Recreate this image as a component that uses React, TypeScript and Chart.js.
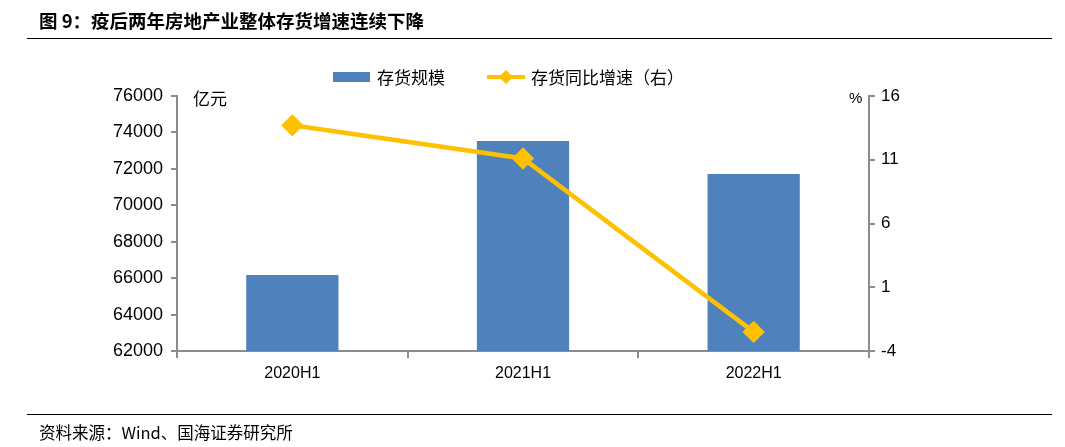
import React, { useEffect, useRef } from "react";
import { Chart, registerables } from "chart.js";

Chart.register(...registerables);

const categories = ["2020H1", "2021H1", "2022H1"];
const inventoryScale = [66170, 73530, 71720];
const inventoryGrowth = [13.7, 11.1, -2.5];
const leftTicks = { min: 62000, max: 76000, step: 2000 };
const rightTicks = { min: -4, max: 16, step: 5 };

const titleText = "图 9：疫后两年房地产业整体存货增速连续下降";
const sourceText = "资料来源：Wind、国海证券研究所";
const legendBar = "存货规模";
const legendLine = "存货同比增速（右）";

const BAR_COLOR = "#4F81BD";
const LINE_COLOR = "#FFC000";
const AXIS_COLOR = "#8C8C8C";
const CJK = '"Noto Sans CJK SC", sans-serif';
const LATIN = '"Liberation Sans", Arial, sans-serif';

export default function App() {
  const ref = useRef<HTMLCanvasElement | null>(null);

  useEffect(() => {
    if (!ref.current) return;
    const chart = new Chart(ref.current, {
      type: "bar",
      data: {
        labels: categories,
        datasets: [
          {
            type: "line",
            label: legendLine,
            data: inventoryGrowth,
            yAxisID: "y1",
            borderColor: LINE_COLOR,
            backgroundColor: LINE_COLOR,
            borderWidth: 4.5,
            pointStyle: "rectRot",
            pointRadius: 8,
            pointBackgroundColor: LINE_COLOR,
            pointBorderColor: LINE_COLOR,
            tension: 0,
            order: 0,
          } as any,
          {
            type: "bar",
            label: legendBar,
            data: inventoryScale,
            yAxisID: "y",
            backgroundColor: BAR_COLOR,
            barPercentage: 0.4,
            categoryPercentage: 1,
            order: 1,
          } as any,
        ],
      },
      options: {
        responsive: false,
        animation: false,
        layout: { padding: { top: 96, bottom: 0, left: 0, right: 0 } },
        plugins: { legend: { display: false }, tooltip: { enabled: false }, title: { display: false } },
        scales: {
          x: {
            grid: {
              display: true,
              offset: true,
              drawOnChartArea: false,
              drawTicks: true,
              tickLength: 7,
              color: AXIS_COLOR,
              lineWidth: 2,
            },
            border: { color: AXIS_COLOR, width: 2 },
            ticks: { color: "#000", font: { family: LATIN, size: 16 }, padding: 6 },
            afterFit: (s: any) => {
              s.height = 96;
            },
          },
          y: {
            position: "left",
            min: leftTicks.min,
            max: leftTicks.max,
            ticks: {
              stepSize: leftTicks.step,
              color: "#000",
              font: { family: LATIN, size: 18 },
              padding: 8,
              callback: (v: any) => String(v),
            },
            grid: { display: true, drawOnChartArea: false, drawTicks: true, tickLength: 6, color: AXIS_COLOR, lineWidth: 2 },
            border: { color: AXIS_COLOR, width: 2 },
            afterFit: (s: any) => {
              s.width = 177;
            },
          },
          y1: {
            position: "right",
            min: rightTicks.min,
            max: rightTicks.max,
            ticks: {
              stepSize: rightTicks.step,
              color: "#000",
              font: { family: LATIN, size: 17 },
              padding: 6,
              callback: (v: any) => String(v),
            },
            grid: { display: true, drawOnChartArea: false, drawTicks: true, tickLength: 6, color: AXIS_COLOR, lineWidth: 2 },
            border: { color: AXIS_COLOR, width: 2 },
            afterFit: (s: any) => {
              s.width = 196;
            },
          },
        },
      },
    });
    return () => chart.destroy();
  }, []);

  const abs = (o: React.CSSProperties): React.CSSProperties => ({ position: "absolute", ...o });

  return (
    <div style={abs({ left: 0, top: 0, width: 1065, height: 447, background: "#fff", overflow: "hidden" })}>
      <canvas ref={ref} width={1065} height={447} style={abs({ left: 0, top: 0, width: 1065, height: 447 })} />
      <div style={abs({ left: 39, top: 8, fontFamily: CJK, fontWeight: 700, fontSize: 18.5, lineHeight: "24px", color: "#000", whiteSpace: "nowrap" })}>
        {titleText}
      </div>
      <div style={abs({ left: 27, top: 38, width: 1025, height: 1, background: "#000" })} />
      <div style={abs({ left: 27, top: 414, width: 1025, height: 1, background: "#000" })} />
      <div style={abs({ left: 39, top: 420, fontFamily: CJK, fontSize: 16.5, lineHeight: "24px", color: "#000", whiteSpace: "nowrap" })}>
        {sourceText}
      </div>
      {/* legend */}
      <div style={abs({ left: 333, top: 72, width: 37, height: 10, background: BAR_COLOR })} />
      <div style={abs({ left: 377, top: 65, fontFamily: CJK, fontSize: 17, lineHeight: "24px", color: "#000", whiteSpace: "nowrap" })}>
        {legendBar}
      </div>
      <div style={abs({ left: 487, top: 75, width: 38, height: 4, background: LINE_COLOR })} />
      <div style={abs({ left: 501, top: 72, width: 10, height: 10, background: LINE_COLOR, transform: "rotate(45deg)" })} />
      <div style={abs({ left: 531, top: 65, fontFamily: CJK, fontSize: 17, lineHeight: "24px", color: "#000", whiteSpace: "nowrap" })}>
        {legendLine}
      </div>
      {/* axis units */}
      <div style={abs({ left: 193, top: 86, fontFamily: CJK, fontSize: 17, lineHeight: "24px", color: "#000", whiteSpace: "nowrap" })}>
        亿元
      </div>
      <div style={abs({ left: 849, top: 88, fontFamily: LATIN, fontSize: 15, lineHeight: "20px", color: "#000", whiteSpace: "nowrap" })}>
        %
      </div>
    </div>
  );
}
